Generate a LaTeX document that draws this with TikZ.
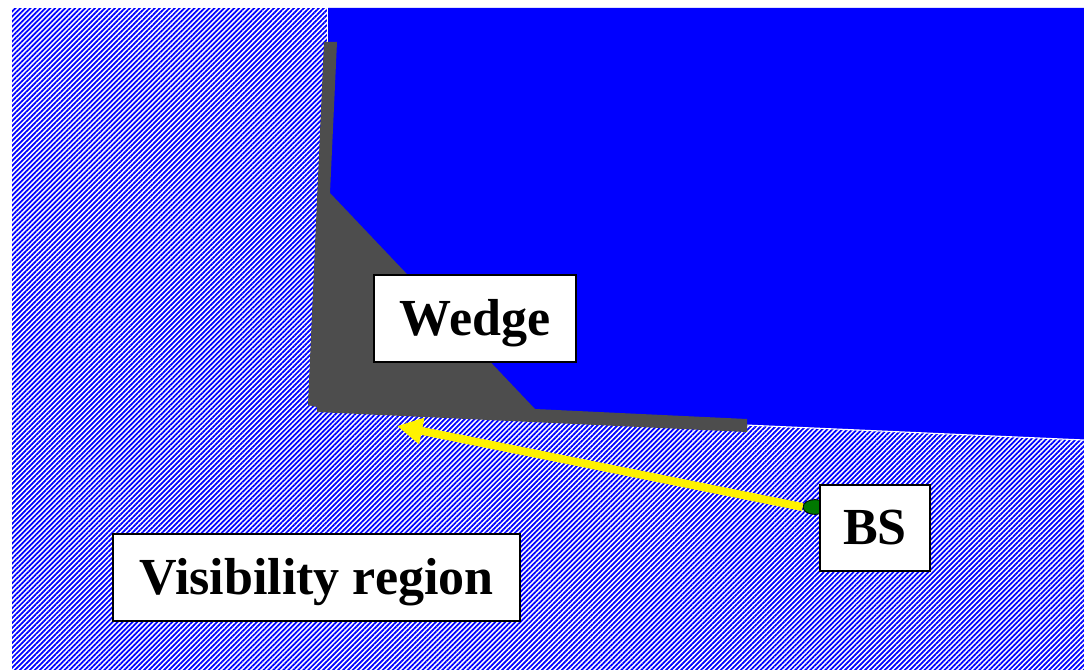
\documentclass[tikz,border=0pt]{standalone}
\usepackage{fontspec}
\setmainfont{Liberation Serif}
\usetikzlibrary{patterns.meta,arrows.meta,shapes.geometric}
\definecolor{wedgegray}{RGB}{77,77,77}
\definecolor{bsgreen}{RGB}{0,120,0}

\tikzset{
  label box/.style={draw=black,line width=1.4pt,fill=white,font=\fontsize{37}{40}\selectfont\bfseries,
    inner sep=0pt,text height=24pt,text depth=0pt},
  hatched/.style={pattern={Lines[angle=45,distance=2.5pt,line width=1.25pt]},pattern color=blue}
}

\begin{document}
\begin{tikzpicture}[x=0.025cm,y=-0.025cm]
  \useasboundingbox (0,0) rectangle (1084,670);
  % visible area and the shadowed block
  \fill[white] (0,0) rectangle (1084,670);
  \fill[hatched] (12,9) rectangle (1084,670);
  \fill[blue] (328,8) -- (1084,8) -- (1084,440) -- (745,425) -- (317,407) -- cycle;
  \draw[white,line width=0.8pt] (1084,440) -- (745,425);
  \draw[white,line width=0.6pt] (327,8) -- (327,42);

  % the wedge
  \fill[wedgegray] (324,42) -- (337,42) -- (330,193) -- (535,409) -- (747,419)
    -- (747,432) -- (317,412) -- (317,407) -- (308,405) -- cycle;

  % base station and its ray
  \node[ellipse,draw=black,line width=0.6pt,fill=bsgreen,
    inner sep=0pt,minimum width=0.6cm,minimum height=0.37cm] (dot) at (815,507) {};
  \coordinate (tip) at (397,426);
  \draw[yellow,line width=5.7pt,-{Triangle[length=18pt,width=18pt]}] (dot.west) -- (tip);

  \node[label box,minimum width=5.05cm,minimum height=2.175cm] (wedge) at (475,318.5) {Wedge};
  \node[label box,minimum width=2.75cm,minimum height=2.15cm] (bs) at (875,528) {BS};
  \node[label box,minimum width=10.175cm,minimum height=2.175cm] (vis) at (316.5,577.5) {Visibility region};
\end{tikzpicture}
\end{document}
